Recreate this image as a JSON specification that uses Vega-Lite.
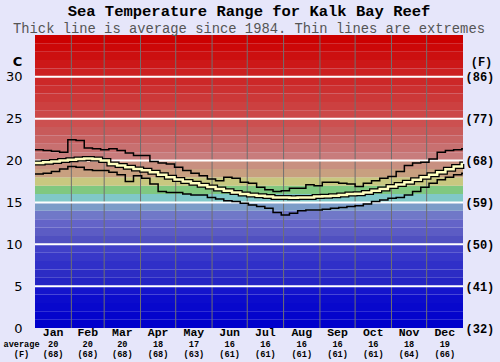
{
  "$schema": "https://vega.github.io/schema/vega-lite/v6.json",
  "autosize": "none",
  "width": 428,
  "height": 293,
  "padding": {"left": 35, "top": 35, "right": 37, "bottom": 34},
  "background": "#E6E6FA",
  "config": {"view": {"stroke": null}},
  "title": {
    "text": "Sea Temperature Range for Kalk Bay Reef",
    "subtitle": "Thick line is average since 1984. Thin lines are extremes",
    "font": "Liberation Mono", "fontSize": 15.5, "fontWeight": "bold", "color": "#000",
    "subtitleFont": "Liberation Mono", "subtitleFontSize": 13.8, "subtitleColor": "#555",
    "subtitlePadding": 2, "offset": -1, "anchor": "middle"
  },
  "datasets": {
    "bands": [
      {"lo": 0, "hi": 1, "c": "#0000CC"}, {"lo": 1, "hi": 2, "c": "#0404CC"}, {"lo": 2, "hi": 3, "c": "#0808CC"},
      {"lo": 3, "hi": 4, "c": "#0C0CCC"}, {"lo": 4, "hi": 5, "c": "#1414CC"}, {"lo": 5, "hi": 6, "c": "#2424C4"},
      {"lo": 6, "hi": 7, "c": "#2C2CC4"}, {"lo": 7, "hi": 8, "c": "#3030C8"}, {"lo": 8, "hi": 9, "c": "#3838C8"},
      {"lo": 9, "hi": 10, "c": "#4040C8"}, {"lo": 10, "hi": 11, "c": "#5050C0"}, {"lo": 11, "hi": 12, "c": "#5C5CC4"},
      {"lo": 12, "hi": 13, "c": "#6464C8"}, {"lo": 13, "hi": 14, "c": "#7078C8"}, {"lo": 14, "hi": 15, "c": "#7C9CC8"},
      {"lo": 15, "hi": 16, "c": "#80C8C8"}, {"lo": 16, "hi": 17, "c": "#80C880"}, {"lo": 17, "hi": 18, "c": "#C8C880"},
      {"lo": 18, "hi": 19, "c": "#C8A080"}, {"lo": 19, "hi": 20, "c": "#C89080"}, {"lo": 20, "hi": 21, "c": "#C87C7C"},
      {"lo": 21, "hi": 22, "c": "#C87070"}, {"lo": 22, "hi": 23, "c": "#C86464"}, {"lo": 23, "hi": 24, "c": "#C85A5A"},
      {"lo": 24, "hi": 25, "c": "#CC5050"}, {"lo": 25, "hi": 26, "c": "#CC4848"}, {"lo": 26, "hi": 27, "c": "#CC4040"},
      {"lo": 27, "hi": 28, "c": "#CC3838"}, {"lo": 28, "hi": 29, "c": "#CC3030"}, {"lo": 29, "hi": 30, "c": "#CC2828"},
      {"lo": 30, "hi": 31, "c": "#CC2020"}, {"lo": 31, "hi": 32, "c": "#CC1818"}, {"lo": 32, "hi": 33, "c": "#CC1010"},
      {"lo": 33, "hi": 34, "c": "#CC0808"}, {"lo": 34, "hi": 35, "c": "#CC0000"}
    ],
    "vlines": [{"d": 31}, {"d": 59}, {"d": 90}, {"d": 120}, {"d": 151}, {"d": 181}, {"d": 212}, {"d": 243}, {"d": 273}, {"d": 304}, {"d": 334}],
    "hlines": [{"t": 5}, {"t": 10}, {"t": 15}, {"t": 20}, {"t": 25}, {"t": 30}],
    "months": [
      {"mid": 15.5, "m": "Jan", "c": "20", "f": "(68)"}, {"mid": 45, "m": "Feb", "c": "20", "f": "(68)"},
      {"mid": 74.5, "m": "Mar", "c": "20", "f": "(68)"}, {"mid": 105, "m": "Apr", "c": "18", "f": "(68)"},
      {"mid": 135.5, "m": "May", "c": "17", "f": "(63)"}, {"mid": 166, "m": "Jun", "c": "16", "f": "(61)"},
      {"mid": 196.5, "m": "Jul", "c": "16", "f": "(61)"}, {"mid": 227.5, "m": "Aug", "c": "16", "f": "(61)"},
      {"mid": 258, "m": "Sep", "c": "16", "f": "(61)"}, {"mid": 288.5, "m": "Oct", "c": "16", "f": "(61)"},
      {"mid": 319, "m": "Nov", "c": "18", "f": "(64)"}, {"mid": 349.5, "m": "Dec", "c": "19", "f": "(66)"}
    ],
    "temps": [
      {"day": 0, "avg": 19.7, "hi": 21.3, "lo": 18.4},
      {"day": 7, "avg": 19.8, "hi": 21.2, "lo": 18.5},
      {"day": 14, "avg": 19.9, "hi": 21.1, "lo": 18.7},
      {"day": 21, "avg": 20.0, "hi": 21.0, "lo": 19.0},
      {"day": 28, "avg": 20.1, "hi": 22.5, "lo": 19.3},
      {"day": 35, "avg": 20.2, "hi": 22.4, "lo": 19.2},
      {"day": 42, "avg": 20.25, "hi": 21.5, "lo": 18.9},
      {"day": 49, "avg": 20.2, "hi": 21.4, "lo": 18.8},
      {"day": 56, "avg": 20.0, "hi": 21.3, "lo": 18.8},
      {"day": 63, "avg": 19.6, "hi": 21.4, "lo": 18.6},
      {"day": 70, "avg": 19.4, "hi": 21.2, "lo": 18.3},
      {"day": 77, "avg": 19.2, "hi": 20.9, "lo": 17.5},
      {"day": 84, "avg": 19.0, "hi": 20.6, "lo": 18.2},
      {"day": 91, "avg": 18.85, "hi": 20.6, "lo": 17.9},
      {"day": 98, "avg": 18.6, "hi": 19.9, "lo": 17.2},
      {"day": 105, "avg": 18.3, "hi": 19.7, "lo": 16.3},
      {"day": 112, "avg": 18.0, "hi": 19.6, "lo": 16.2},
      {"day": 119, "avg": 17.75, "hi": 19.2, "lo": 16.2},
      {"day": 126, "avg": 17.5, "hi": 18.8, "lo": 16.0},
      {"day": 133, "avg": 17.3, "hi": 18.5, "lo": 15.9},
      {"day": 140, "avg": 17.05, "hi": 18.2, "lo": 15.9},
      {"day": 147, "avg": 16.85, "hi": 17.8, "lo": 15.6},
      {"day": 154, "avg": 16.6, "hi": 17.6, "lo": 15.4},
      {"day": 161, "avg": 16.4, "hi": 18.0, "lo": 15.2},
      {"day": 168, "avg": 16.2, "hi": 17.9, "lo": 15.1},
      {"day": 175, "avg": 16.0, "hi": 17.4, "lo": 14.9},
      {"day": 182, "avg": 15.9, "hi": 17.3, "lo": 14.7},
      {"day": 189, "avg": 15.8, "hi": 16.8, "lo": 14.5},
      {"day": 196, "avg": 15.7, "hi": 16.5, "lo": 14.3},
      {"day": 203, "avg": 15.6, "hi": 16.3, "lo": 13.8},
      {"day": 210, "avg": 15.6, "hi": 16.4, "lo": 13.5},
      {"day": 217, "avg": 15.55, "hi": 16.7, "lo": 13.7},
      {"day": 224, "avg": 15.6, "hi": 16.7, "lo": 14.0},
      {"day": 231, "avg": 15.6, "hi": 17.1, "lo": 14.1},
      {"day": 238, "avg": 15.7, "hi": 17.0, "lo": 14.1},
      {"day": 245, "avg": 15.75, "hi": 17.4, "lo": 14.2},
      {"day": 252, "avg": 15.8, "hi": 17.4, "lo": 14.3},
      {"day": 259, "avg": 15.9, "hi": 17.3, "lo": 14.4},
      {"day": 266, "avg": 16.0, "hi": 17.2, "lo": 14.5},
      {"day": 273, "avg": 16.05, "hi": 16.9, "lo": 14.6},
      {"day": 280, "avg": 16.2, "hi": 17.3, "lo": 14.8},
      {"day": 287, "avg": 16.4, "hi": 17.6, "lo": 15.1},
      {"day": 294, "avg": 16.6, "hi": 17.9, "lo": 15.3},
      {"day": 301, "avg": 16.9, "hi": 18.1, "lo": 15.5},
      {"day": 308, "avg": 17.15, "hi": 18.7, "lo": 15.6},
      {"day": 315, "avg": 17.4, "hi": 19.4, "lo": 15.9},
      {"day": 322, "avg": 17.7, "hi": 19.7, "lo": 16.3},
      {"day": 329, "avg": 18.0, "hi": 19.8, "lo": 16.8},
      {"day": 336, "avg": 18.3, "hi": 20.2, "lo": 17.3},
      {"day": 343, "avg": 18.6, "hi": 21.0, "lo": 17.7},
      {"day": 350, "avg": 18.95, "hi": 21.2, "lo": 18.0},
      {"day": 357, "avg": 19.3, "hi": 21.3, "lo": 18.3},
      {"day": 364, "avg": 19.6, "hi": 21.4, "lo": 18.5},
      {"day": 365, "avg": 19.6, "hi": 21.4, "lo": 18.5}
    ]
  },
  "resolve": {"scale": {"y": "independent"}},
  "layer": [
    {
      "layer": [
        {
          "data": {"name": "bands"},
          "mark": {"type": "rect"},
          "encoding": {
            "y": {"field": "lo", "type": "quantitative", "scale": {"domain": [0, 35], "nice": false},
              "axis": {"values": [0, 5, 10, 15, 20, 25, 30], "grid": false, "ticks": false, "domain": false,
                "labelFont": "DejaVu Sans", "labelFontSize": 13, "labelColor": "#000", "labelPadding": 13,
                "title": "C", "titleAngle": 0, "titleX": -18, "titleY": 26, "titleAlign": "center", "titleBaseline": "middle",
                "titleFont": "DejaVu Sans", "titleFontSize": 13, "titleFontWeight": "bold", "titleColor": "#000"}},
            "y2": {"field": "hi"},
            "color": {"field": "c", "type": "nominal", "scale": null}
          }
        },
        {
          "data": {"name": "vlines"},
          "mark": {"type": "rule", "color": "#707070", "strokeWidth": 1},
          "encoding": {
            "x": {"field": "d", "type": "quantitative", "scale": {"domain": [0, 365], "nice": false}, "axis": null}
          }
        },
        {
          "data": {"name": "hlines"},
          "mark": {"type": "rule", "color": "#FFFFFF", "strokeWidth": 2},
          "encoding": {
            "y": {"field": "t", "type": "quantitative", "scale": {"domain": [0, 35], "nice": false}}
          }
        },
        {
          "data": {"name": "temps"},
          "mark": {"type": "line", "interpolate": "step-after", "color": "#000", "strokeWidth": 1.5},
          "encoding": {
            "x": {"field": "day", "type": "quantitative", "scale": {"domain": [0, 365], "nice": false}, "axis": null},
            "y": {"field": "hi", "type": "quantitative", "scale": {"domain": [0, 35], "nice": false}}
          }
        },
        {
          "data": {"name": "temps"},
          "mark": {"type": "line", "interpolate": "step-after", "color": "#000", "strokeWidth": 1.5},
          "encoding": {
            "x": {"field": "day", "type": "quantitative", "scale": {"domain": [0, 365], "nice": false}, "axis": null},
            "y": {"field": "lo", "type": "quantitative", "scale": {"domain": [0, 35], "nice": false}}
          }
        },
        {
          "data": {"name": "temps"},
          "mark": {"type": "line", "interpolate": "step-after", "color": "#000", "strokeWidth": 5},
          "encoding": {
            "x": {"field": "day", "type": "quantitative", "scale": {"domain": [0, 365], "nice": false}, "axis": null},
            "y": {"field": "avg", "type": "quantitative", "scale": {"domain": [0, 35], "nice": false}}
          }
        },
        {
          "data": {"name": "temps"},
          "mark": {"type": "line", "interpolate": "step-after", "color": "#FFFFC0", "strokeWidth": 2.5},
          "encoding": {
            "x": {"field": "day", "type": "quantitative", "scale": {"domain": [0, 365], "nice": false}, "axis": null},
            "y": {"field": "avg", "type": "quantitative", "scale": {"domain": [0, 35], "nice": false}}
          }
        },
        {
          "data": {"name": "months"},
          "mark": {"type": "text", "font": "Liberation Mono", "fontSize": 11.5, "fontWeight": "bold", "color": "#000", "baseline": "middle"},
          "encoding": {
            "x": {"field": "mid", "type": "quantitative", "scale": {"domain": [0, 365], "nice": false}, "axis": null},
            "y": {"datum": -0.64, "type": "quantitative", "scale": {"domain": [0, 35], "nice": false}},
            "text": {"field": "m"}
          }
        },
        {
          "data": {"name": "months"},
          "mark": {"type": "text", "font": "Liberation Mono", "fontSize": 8.6, "fontWeight": "bold", "color": "#000", "baseline": "middle"},
          "encoding": {
            "x": {"field": "mid", "type": "quantitative", "scale": {"domain": [0, 365], "nice": false}, "axis": null},
            "y": {"datum": -1.96, "type": "quantitative", "scale": {"domain": [0, 35], "nice": false}},
            "text": {"field": "c"}
          }
        },
        {
          "data": {"name": "months"},
          "mark": {"type": "text", "font": "Liberation Mono", "fontSize": 8.6, "fontWeight": "bold", "color": "#000", "baseline": "middle"},
          "encoding": {
            "x": {"field": "mid", "type": "quantitative", "scale": {"domain": [0, 365], "nice": false}, "axis": null},
            "y": {"datum": -3.06, "type": "quantitative", "scale": {"domain": [0, 35], "nice": false}},
            "text": {"field": "f"}
          }
        },
        {
          "data": {"values": [{"label": "average", "t": -1.96}, {"label": "(F)", "t": -3.06}]},
          "mark": {"type": "text", "font": "Liberation Mono", "fontSize": 8.6, "fontWeight": "bold", "color": "#000", "baseline": "middle"},
          "encoding": {
            "x": {"datum": -11.5, "type": "quantitative", "scale": {"domain": [0, 365], "nice": false}, "axis": null},
            "y": {"field": "t", "type": "quantitative", "scale": {"domain": [0, 35], "nice": false}},
            "text": {"field": "label"}
          }
        }
      ]
    },
    {
      "data": {"values": [{"t": 0}]},
      "mark": {"type": "rule", "opacity": 0},
      "encoding": {
        "y": {"field": "t", "type": "quantitative", "scale": {"domain": [0, 35], "nice": false},
          "axis": {"orient": "right", "values": [0, 5, 10, 15, 20, 25, 30],
            "labelExpr": "'(' + format(datum.value * 9 / 5 + 32, 'd') + ')'",
            "grid": false, "ticks": false, "domain": false, "labelFont": "Liberation Mono", "labelFontSize": 12,
            "labelFontWeight": "bold", "labelColor": "#000", "labelPadding": 2,
            "title": "(F)", "titleAngle": 0, "titleX": 18, "titleY": 26, "titleAlign": "center", "titleBaseline": "middle",
            "titleFont": "Liberation Mono", "titleFontSize": 12, "titleFontWeight": "bold", "titleColor": "#000"}}
      }
    }
  ]
}
